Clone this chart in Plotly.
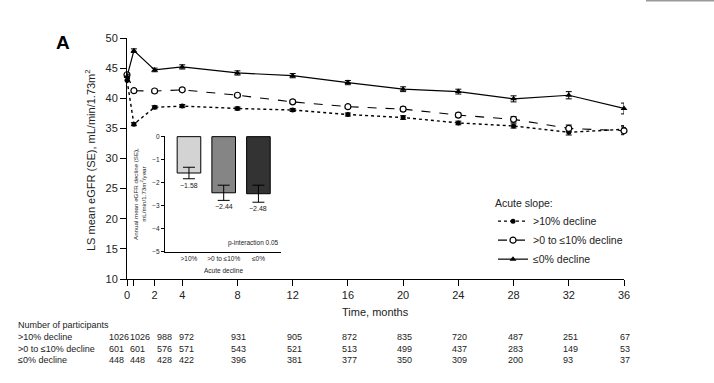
import plotly.graph_objects as go

# ---------------- data ----------------
months = [0, 0.5, 2, 4, 8, 12, 16, 20, 24, 28, 32, 36]
tick_vals = [0, 0.5, 2, 4, 8, 12, 16, 20, 24, 28, 32, 36]
tick_text = ["0", " ", "2", "4", "8", "12", "16", "20", "24", "28", "32", "36"]

gt10 = [43.0, 35.7, 38.5, 38.7, 38.3, 38.05, 37.3, 36.8, 35.9, 35.4, 34.35, 34.85]
gt10_se = [0.25, 0.25, 0.25, 0.25, 0.25, 0.25, 0.25, 0.3, 0.3, 0.35, 0.45, 0.6]
mid = [43.9, 41.25, 41.2, 41.4, 40.5, 39.4, 38.6, 38.2, 37.2, 36.5, 35.0, 34.6]
mid_se = [0.3, 0.3, 0.3, 0.3, 0.3, 0.3, 0.3, 0.35, 0.35, 0.45, 0.55, 0.65]
le0 = [43.6, 47.9, 44.7, 45.2, 44.2, 43.75, 42.6, 41.5, 41.1, 39.9, 40.5, 38.3]
le0_se = [0.3, 0.3, 0.3, 0.35, 0.35, 0.35, 0.35, 0.4, 0.4, 0.5, 0.6, 0.9]

series_names = [">10% decline", ">0 to \u226410% decline", "\u22640% decline"]

inset_cats = [">10%", ">0 to \u226410%", "\u22640%"]
inset_vals = [-1.58, -2.44, -2.48]
inset_se = [0.25, 0.33, 0.37]
inset_labels = ["\u22121.58", "\u22122.44", "\u22122.48"]

n_gt10 = [1026, 1026, 988, 972, 931, 905, 872, 835, 720, 487, 251, 67]
n_mid = [601, 601, 576, 571, 543, 521, 513, 499, 437, 283, 149, 53]
n_le0 = [448, 448, 428, 422, 396, 381, 377, 350, 309, 200, 93, 37]

# ---------------- figure ----------------
W, H = 714, 383
FONT = "Liberation Sans, Arial, sans-serif"
TXT = "#222222"

def px_x(p):
    return p / W

def px_y(p):
    return 1 - p / H

def note(x, y, text, size, xref="paper", yref="paper", xanchor="center", yanchor="middle", **kw):
    return dict(x=x, y=y, xref=xref, yref=yref, text=text, showarrow=False,
                xanchor=xanchor, yanchor=yanchor,
                font=dict(size=size, color=kw.pop("color", TXT), family=FONT), **kw)

fig = go.Figure()

common_err = dict(type="data", thickness=1, width=3, color="black")

fig.add_trace(go.Scatter(
    x=months, y=gt10, name=series_names[0], mode="lines+markers",
    line=dict(color="black", width=1.4, dash="dot"),
    marker=dict(symbol="circle", size=5, color="black"),
    error_y=dict(array=gt10_se, **common_err), cliponaxis=False,
))
fig.add_trace(go.Scatter(
    x=months, y=mid, name=series_names[1], mode="lines+markers",
    line=dict(color="black", width=1.1, dash="dash"),
    marker=dict(symbol="circle", size=6, color="white", line=dict(color="black", width=1.2)),
    error_y=dict(array=mid_se, **common_err), cliponaxis=False,
))
fig.add_trace(go.Scatter(
    x=months, y=le0, name=series_names[2], mode="lines+markers",
    line=dict(color="black", width=1.2),
    marker=dict(symbol="triangle-up", size=6, color="black"),
    error_y=dict(array=le0_se, **common_err), cliponaxis=False,
))

# inset bars
fig.add_trace(go.Bar(
    x=inset_cats, y=inset_vals, xaxis="x2", yaxis="y2", showlegend=False,
    marker=dict(color=["#d3d3d3", "#858585", "#333333"], line=dict(color="black", width=1)),
    width=0.68,
    error_y=dict(type="data", array=inset_se, thickness=1, width=6, color="black"),
))

annotations = []
# inset value labels
for c, v, s, lab in zip(inset_cats, inset_vals, inset_se, inset_labels):
    annotations.append(note(c, v - s, lab, 7, xref="x2", yref="y2", yanchor="top", yshift=-1))
annotations.append(note(1, -4.62, "p-interaction 0.05", 6.5, xref="x2 domain", yref="y2", xanchor="right"))
annotations.append(note(0.5, px_y(270), "Acute decline", 6.5, xref="x2 domain"))
annotations.append(note(px_x(139), px_y(194),
                        "Annual mean eGFR decline (SE),<br>mL/min/1.73m<sup>2</sup>/year", 6.2,
                        textangle=-90))

# panel label
annotations.append(note(px_x(63), px_y(42), "<b>A</b>", 19, color="black"))

# table
row_y = [px_y(336.7), px_y(349), px_y(360.3)]
annotations.append(note(px_x(16), px_y(325), "Number of participants", 9, xanchor="left"))
for lab, yy in zip(series_names, row_y):
    annotations.append(note(px_x(16), yy, lab, 9, xanchor="left"))
col_shift = [-20, -6, 0, -5, -8, -8, -8, -8, -8, -8, -8, -6]
for counts, yy in zip([n_gt10, n_mid, n_le0], row_y):
    for m, n, sh in zip(months, counts, col_shift):
        annotations.append(note(m, yy, str(n), 9, xref="x", xanchor="left", xshift=sh))

# axis titles
annotations.append(note(px_x(375.5), px_y(312), "Time, months", 11))
annotations.append(note(px_x(90), px_y(160), "LS mean eGFR (SE), mL/min/1.73m<sup>2</sup>", 11,
                        textangle=-90))

fig.update_layout(
    width=W, height=H,
    margin=dict(l=0, r=0, t=0, b=0, autoexpand=False),
    paper_bgcolor="white", plot_bgcolor="white",
    font=dict(family=FONT, color=TXT, size=11),
    showlegend=True,
    legend=dict(
        x=px_x(493), y=px_y(193), xanchor="left", yanchor="top",
        title=dict(text="Acute slope:", font=dict(size=10.5, color=TXT)),
        font=dict(size=10.5, color=TXT), bgcolor="rgba(0,0,0,0)",
        itemwidth=30, tracegroupgap=0,
    ),
    xaxis=dict(
        domain=[px_x(127), px_x(624)], range=[0, 36], tickmode="array", automargin=False,
        tickvals=tick_vals, ticktext=tick_text, ticks="outside", ticklen=6, tickwidth=1,
        tickcolor="black", showline=True, linecolor="black", linewidth=1, showgrid=False,
        zeroline=False, tickfont=dict(size=11, color=TXT),
    ),
    yaxis=dict(
        domain=[px_y(279), px_y(38)], range=[10, 50], tickmode="linear", tick0=10, dtick=5,
        automargin=False,
        ticks="outside", ticklen=6, tickwidth=1, tickcolor="black", showline=True,
        linecolor="black", linewidth=1, showgrid=False, zeroline=False,
        tickfont=dict(size=11, color=TXT),
    ),
    xaxis2=dict(
        domain=[px_x(165), px_x(281)], range=[-0.69, 2.65], anchor="y2", automargin=False,
        showline=True, linecolor="black", linewidth=1, ticks="", showgrid=False,
        tickfont=dict(size=6.5, color=TXT), zeroline=False,
    ),
    yaxis2=dict(
        domain=[px_y(251.7), px_y(135.5)], range=[-5, 0.05], anchor="x2", automargin=False,
        tickmode="array", tickvals=[0, -1, -2, -3, -4, -5],
        ticktext=["0", "\u22121", "\u22122", "\u22123", "\u22124", "\u22125"],
        showline=True, linecolor="black", linewidth=1, ticks="outside", ticklen=3,
        tickcolor="black", showgrid=False, zeroline=False, tickfont=dict(size=6.5, color=TXT),
    ),
    annotations=annotations,
    shapes=[dict(type="line", xref="paper", yref="paper", x0=px_x(646), x1=1, y0=px_y(0.8), y1=px_y(0.8),
                 line=dict(color="#999999", width=1.5))],
)

fig.write_html("out.html", config={"displayModeBar": False},
               post_script="document.body.style.margin='0';")
